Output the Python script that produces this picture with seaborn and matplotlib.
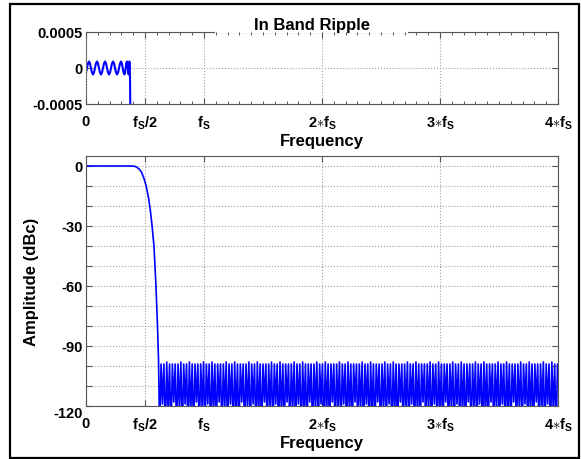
import matplotlib
matplotlib.use('Agg')
import matplotlib.pyplot as plt
from matplotlib.patches import Rectangle
from matplotlib.ticker import MultipleLocator
import seaborn as sns

# ---- data (frequency in units of fs, amplitude in dBc) ----
xtick_pos = [0, 0.5, 1, 2, 3, 4]
xtick_labels = ['0', r'$\mathbf{f_S/2}$', r'$\mathbf{f_S}$',
                r'$\mathbf{2{\ast}f_S}$', r'$\mathbf{3{\ast}f_S}$', r'$\mathbf{4{\ast}f_S}$']

ripple_ticks = [-0.0005, 0, 0.0005]
ripple_tick_labels = ['-0.0005', '0', '0.0005']

amp_ticks = [-120, -110, -100, -90, -80, -70, -60, -50, -40, -30, -20, -10, 0]
amp_tick_labels = ['-120', '', '', '-90', '', '', '-60', '', '', '-30', '', '', '0']

# in band ripple (top panel)
ripple_f = [0.000, 0.008, 0.0165, 0.025, 0.0335, 0.042, 0.0505, 0.059, 0.0675,
            0.076, 0.0845, 0.093, 0.1015, 0.110, 0.1185, 0.127, 0.1355, 0.144,
            0.1525, 0.161, 0.1695, 0.178, 0.1865, 0.195, 0.2035, 0.212, 0.2205,
            0.229, 0.2375, 0.246, 0.2545, 0.263, 0.2715, 0.280, 0.2885, 0.297,
            0.304, 0.311, 0.318, 0.326, 0.331, 0.336, 0.341, 0.347, 0.351,
            0.354, 0.358, 0.362, 0.365, 0.368, 0.371, 0.373, 0.376]
ripple_db = [-0.000064, 0.0, 0.000064, 0.00009, 0.000064, 0.0, -0.000064, -0.00009, -0.000064,
             0.0, 0.000064, 0.00009, 0.000064, 0.0, -0.000064, -0.00009, -0.000064, 0.0,
             0.000064, 0.00009, 0.000064, 0.0, -0.000064, -0.00009, -0.000064, 0.0, 0.000064,
             0.00009, 0.000064, 0.0, -0.000064, -0.00009, -0.000064, 0.0, 0.000064, 0.00009,
             0.000064, 0.0, -0.000064, -0.00009, -0.000064, 0.0, 0.000064, 0.00009, 0.000064,
             0.0, -0.000064, -0.00009, 0.0, 0.00009, 0.0, -0.00015, -0.0006]

# passband + transition band (bottom panel)
band_f = [0.0, 0.10, 0.20, 0.30, 0.38, 0.41, 0.43, 0.45, 0.47, 0.49, 0.51,
          0.53, 0.545, 0.56, 0.576, 0.593, 0.606, 0.615]
band_db = [0, 0, 0, 0, 0, -0.1, -0.6, -1.5, -3, -6, -10,
           -16, -22, -30, -40, -60, -80, -98]

# stopband lobes (bottom panel); nulls fall below the -120 floor
stop_f = [
    0.624, 0.636, 0.648, 0.660, 0.672, 0.684, 0.696, 0.708,
    0.720, 0.732, 0.744, 0.756, 0.768, 0.780, 0.792, 0.804,
    0.816, 0.828, 0.840, 0.852, 0.864, 0.876, 0.888, 0.900,
    0.912, 0.924, 0.936, 0.948, 0.960, 0.972, 0.984, 0.996,
    1.008, 1.020, 1.032, 1.044, 1.056, 1.068, 1.080, 1.092,
    1.104, 1.116, 1.128, 1.140, 1.152, 1.164, 1.176, 1.188,
    1.200, 1.212, 1.224, 1.236, 1.248, 1.260, 1.272, 1.284,
    1.296, 1.308, 1.320, 1.332, 1.344, 1.356, 1.368, 1.380,
    1.392, 1.404, 1.416, 1.428, 1.440, 1.452, 1.464, 1.476,
    1.488, 1.500, 1.512, 1.524, 1.536, 1.548, 1.560, 1.572,
    1.584, 1.596, 1.608, 1.620, 1.632, 1.644, 1.656, 1.668,
    1.680, 1.692, 1.704, 1.716, 1.728, 1.740, 1.752, 1.764,
    1.776, 1.788, 1.800, 1.812, 1.824, 1.836, 1.848, 1.860,
    1.872, 1.884, 1.896, 1.908, 1.920, 1.932, 1.944, 1.956,
    1.968, 1.980, 1.992, 2.004, 2.016, 2.028, 2.040, 2.052,
    2.064, 2.076, 2.088, 2.100, 2.112, 2.124, 2.136, 2.148,
    2.160, 2.172, 2.184, 2.196, 2.208, 2.220, 2.232, 2.244,
    2.256, 2.268, 2.280, 2.292, 2.304, 2.316, 2.328, 2.340,
    2.352, 2.364, 2.376, 2.388, 2.400, 2.412, 2.424, 2.436,
    2.448, 2.460, 2.472, 2.484, 2.496, 2.508, 2.520, 2.532,
    2.544, 2.556, 2.568, 2.580, 2.592, 2.604, 2.616, 2.628,
    2.640, 2.652, 2.664, 2.676, 2.688, 2.700, 2.712, 2.724,
    2.736, 2.748, 2.760, 2.772, 2.784, 2.796, 2.808, 2.820,
    2.832, 2.844, 2.856, 2.868, 2.880, 2.892, 2.904, 2.916,
    2.928, 2.940, 2.952, 2.964, 2.976, 2.988, 3.000, 3.012,
    3.024, 3.036, 3.048, 3.060, 3.072, 3.084, 3.096, 3.108,
    3.120, 3.132, 3.144, 3.156, 3.168, 3.180, 3.192, 3.204,
    3.216, 3.228, 3.240, 3.252, 3.264, 3.276, 3.288, 3.300,
    3.312, 3.324, 3.336, 3.348, 3.360, 3.372, 3.384, 3.396,
    3.408, 3.420, 3.432, 3.444, 3.456, 3.468, 3.480, 3.492,
    3.504, 3.516, 3.528, 3.540, 3.552, 3.564, 3.576, 3.588,
    3.600, 3.612, 3.624, 3.636, 3.648, 3.660, 3.672, 3.684,
    3.696, 3.708, 3.720, 3.732, 3.744, 3.756, 3.768, 3.780,
    3.792, 3.804, 3.816, 3.828, 3.840, 3.852, 3.864, 3.876,
    3.888, 3.900, 3.912, 3.924, 3.936, 3.948, 3.960, 3.972,
    3.984, 3.996]
stop_db = [
    -135, -99, -119, -99, -135, -98, -123, -99,
    -135, -99, -118, -99, -135, -99, -121, -98,
    -135, -99, -119, -99, -135, -98, -123, -99,
    -135, -99, -118, -99, -135, -99, -121, -98,
    -135, -99, -119, -99, -135, -98, -123, -99,
    -135, -99, -118, -99, -135, -99, -121, -98,
    -135, -99, -119, -99, -135, -98, -123, -99,
    -135, -99, -118, -99, -135, -99, -121, -98,
    -135, -99, -119, -99, -135, -98, -123, -99,
    -135, -99, -118, -99, -135, -99, -121, -98,
    -135, -99, -119, -99, -135, -98, -123, -99,
    -135, -99, -118, -99, -135, -99, -121, -98,
    -135, -99, -119, -99, -135, -98, -123, -99,
    -135, -99, -118, -99, -135, -99, -121, -98,
    -135, -99, -119, -99, -135, -98, -123, -99,
    -135, -99, -118, -99, -135, -99, -121, -98,
    -135, -99, -119, -99, -135, -98, -123, -99,
    -135, -99, -118, -99, -135, -99, -121, -98,
    -135, -99, -119, -99, -135, -98, -123, -99,
    -135, -99, -118, -99, -135, -99, -121, -98,
    -135, -99, -119, -99, -135, -98, -123, -99,
    -135, -99, -118, -99, -135, -99, -121, -98,
    -135, -99, -119, -99, -135, -98, -123, -99,
    -135, -99, -118, -99, -135, -99, -121, -98,
    -135, -99, -119, -99, -135, -98, -123, -99,
    -135, -99, -118, -99, -135, -99, -121, -98,
    -135, -99, -119, -99, -135, -98, -123, -99,
    -135, -99, -118, -99, -135, -99, -121, -98,
    -135, -99, -119, -99, -135, -98, -123, -99,
    -135, -99, -118, -99, -135, -99, -121, -98,
    -135, -99, -119, -99, -135, -98, -123, -99,
    -135, -99, -118, -99, -135, -99, -121, -98,
    -135, -99, -119, -99, -135, -98, -123, -99,
    -135, -99, -118, -99, -135, -99, -121, -98,
    -135, -99, -119, -99, -135, -98, -123, -99,
    -135, -99]

response_f = band_f + stop_f
response_db = band_db + stop_db

# ---- style ----
sns.set_style('ticks')
plt.rcParams['font.family'] = ['Liberation Sans', 'DejaVu Sans']
plt.rcParams['font.weight'] = 'bold'
plt.rcParams['text.color'] = 'black'
plt.rcParams['axes.labelcolor'] = 'black'
plt.rcParams['xtick.labelcolor'] = 'black'
plt.rcParams['ytick.labelcolor'] = 'black'
plt.rcParams['mathtext.fontset'] = 'custom'
plt.rcParams['mathtext.rm'] = 'Liberation Sans:bold'
plt.rcParams['mathtext.bf'] = 'Liberation Sans:bold'
plt.rcParams['mathtext.it'] = 'Liberation Sans:bold'

BLUE = '#0000ff'
SPINE = '#555555'

fig = plt.figure(figsize=(5.81, 4.60), dpi=100)
ax_top = fig.add_axes([86 / 581, 1 - 105 / 460, 472 / 581, 72 / 460])
ax_bot = fig.add_axes([86 / 581, 1 - 407 / 460, 472 / 581, 250 / 460])

sns.lineplot(x=ripple_f, y=ripple_db, ax=ax_top, color=BLUE, lw=1.5,
             sort=False, estimator=None)
sns.lineplot(x=response_f, y=response_db, ax=ax_bot, color=BLUE, lw=1.2,
             sort=False, estimator=None)


def style_axes(ax):
    ax.set_xlim(0, 4)
    ax.set_xticks(xtick_pos)
    ax.set_xticklabels(xtick_labels)
    ax.tick_params(which='both', direction='in', top=True, right=True,
                   bottom=True, left=True, color=SPINE, labelcolor='black',
                   labelsize=10.5)
    ax.tick_params(which='major', length=4, width=0.8)
    ax.tick_params(axis='x', pad=7)
    ax.tick_params(axis='y', pad=2.5)
    ax.grid(True, which='major', linestyle=':', color='#a0a0a0', lw=0.8)
    for s in ax.spines.values():
        s.set_visible(True)
        s.set_color(SPINE)
        s.set_linewidth(0.8)
    ax.set_xlabel('Frequency', fontsize=12, fontweight='bold', labelpad=1,
                  color='black')


style_axes(ax_top)
ax_top.set_ylim(-0.0005, 0.0005)
ax_top.set_yticks(ripple_ticks)
ax_top.set_yticklabels(ripple_tick_labels)
ax_top.xaxis.set_minor_locator(MultipleLocator(0.1))
ax_top.tick_params(which='minor', length=2.5, width=0.7)
ax_top.set_ylabel('')
# title sits on a white block that hides the top spine (ticks stay visible)
ax_top.add_patch(Rectangle((0.273, 0.99), 0.409, 0.3, transform=ax_top.transAxes,
                           facecolor='white', edgecolor='none', clip_on=False,
                           zorder=2.7))
ax_top.xaxis.set_zorder(2.8)
ax_top.set_title('In Band Ripple', fontsize=12, fontweight='bold', x=0.479,
                 pad=2.5, color='black')

style_axes(ax_bot)
ax_bot.set_ylim(-120, 5)
ax_bot.set_yticks(amp_ticks)
ax_bot.set_yticklabels(amp_tick_labels)
ax_bot.set_ylabel('Amplitude (dBc)', fontsize=12, fontweight='bold', color='black')
ax_bot.yaxis.set_label_coords((39 - 86) / 472, 0.5)
ax_bot.get_yticklabels()[0].set_verticalalignment('top')

# outer frame
fig.patches.append(Rectangle((10 / 581, 1 - 459 / 460), 569 / 581, 454 / 460,
                             transform=fig.transFigure, fill=False,
                             edgecolor='black', lw=1.6))

fig.savefig('out.png', dpi=100)
